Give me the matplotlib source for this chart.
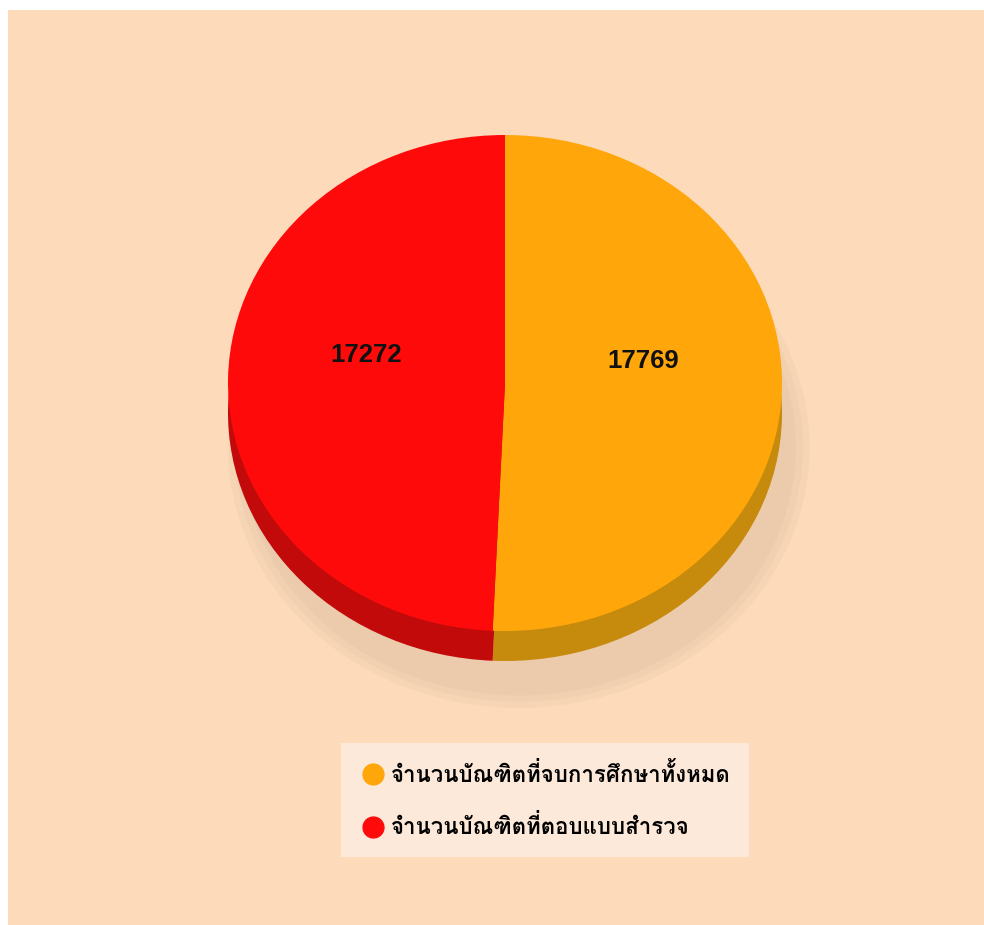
import numpy as np
import matplotlib
matplotlib.use('Agg')
import matplotlib.pyplot as plt
from matplotlib import font_manager
from matplotlib.ft2font import FT2Font
from matplotlib.lines import Line2D

# data
labels = ['จำนวนบัณฑิตที่จบการศึกษาทั้งหมด', 'จำนวนบัณฑิตที่ตอบแบบสำรวจ']
values = [17769, 17272]
top_colors = ['#FFA60A', '#FF0A0A']
side_colors = ['#C68A0C', '#C20A0A']


def thai_families():
    found = []
    for f in font_manager.fontManager.ttflist:
        try:
            if ord('ก') in FT2Font(f.fname).get_charmap() and f.name not in found:
                found.append(f.name)
        except Exception:
            pass
    return found


thai = thai_families()

W, H = 984, 925
bg = '#FCDABA'

fig = plt.figure(figsize=(W / 100, H / 100), dpi=100)
fig.patch.set_facecolor('white')
fig.patches.append(plt.Rectangle((8 / W, 0), 1, 1 - 10 / H, transform=fig.transFigure,
                                 facecolor=bg, edgecolor='none', zorder=-10))

# pie axes: box of the top ellipse in pixels
x0, x1, y0, y1 = 228, 782, 135, 631
ax = fig.add_axes([x0 / W, (H - y1) / H, (x1 - x0) / W, (y1 - y0) / H])
ax.patch.set_visible(False)
ry = (y1 - y0) / 2
depth = 30 / ry

# soft shadow
for k, a in [(1.05, 0.25), (1.025, 0.35), (1.0, 0.5)]:
    ax.pie([1], colors=['#E8C7AA'], radius=k, center=(0.05, -0.26),
           wedgeprops=dict(linewidth=0, alpha=a), frame=True)

# side
ax.pie(values, colors=side_colors, startangle=90, counterclock=False,
       center=(0, -depth), wedgeprops=dict(linewidth=0), frame=True)
# top
wedges, texts, autotexts = ax.pie(
    values, colors=top_colors, startangle=90, counterclock=False,
    wedgeprops=dict(linewidth=0), frame=True,
    autopct=lambda p: '{:.0f}'.format(p * sum(values) / 100), pctdistance=0.5,
    textprops=dict(fontsize=18.5, fontweight='bold', family='Liberation Sans', color='#111111'))
for t in autotexts:
    x, y = t.get_position()
    t.set_position((x, y + 0.1))
ax.set_xlim(-1, 1)
ax.set_ylim(-1, 1)
ax.set_aspect('auto')
ax.axis('off')

handles = [Line2D([], [], marker='o', linestyle='none', markersize=15,
                  markerfacecolor=c, markeredgecolor=c) for c in top_colors]
leg = fig.legend(handles, labels, loc='center', bbox_to_anchor=(545 / W, 1 - 800 / H),
                 frameon=True, fancybox=False, labelspacing=1.3, handletextpad=0.2,
                 handlelength=1.2, borderpad=0.85, borderaxespad=0,
                 prop=dict(family=thai + ['DejaVu Sans'], weight='bold', size=16))
leg.get_frame().set_facecolor('#FCE9DA')
leg.get_frame().set_edgecolor('none')
leg.get_frame().set_alpha(1)

fig.savefig('out.png', dpi=100, facecolor=fig.get_facecolor())
